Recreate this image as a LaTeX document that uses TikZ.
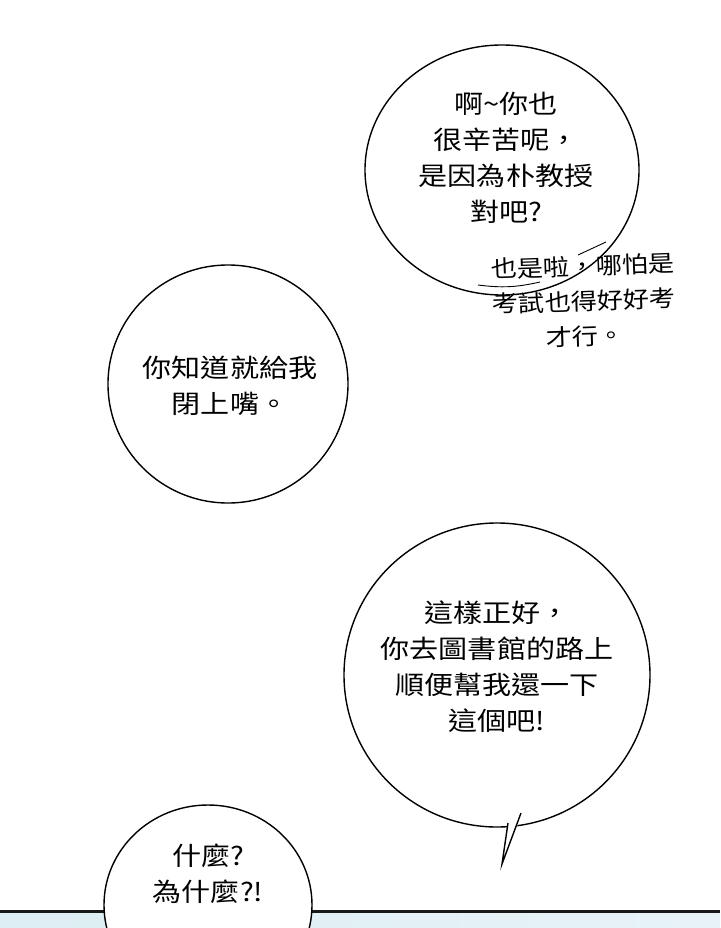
\documentclass[tikz,border=0pt]{standalone}
\usepackage{fontspec}
\newfontfamily\cjk[FakeStretch=1.14]{Noto Sans CJK TC}
\definecolor{panelblue}{HTML}{DDEEF4}
\begin{document}
\begin{tikzpicture}[x=1pt,y=-1pt,
  bub/.style={draw=black,line width=1.4pt,fill=white},
  txt/.style={font=\cjk\fontsize{25.5}{36}\selectfont,align=center,text=black},
  hand/.style={font=\cjk\fontsize{23}{35}\selectfont,align=center,text=black}]
\useasboundingbox (0,0) rectangle (720,928);
\fill[white] (0,0) rectangle (720,928);
\shade[left color=panelblue,right color=panelblue!70!white] (0,911) rectangle (720,928);
\draw[line width=3pt,black!90] (0,911) -- (720,911);
% bubble 1
\draw[bub] (502,170) ellipse [x radius=137, y radius=125];
\node[txt] (t1) at (506,158) {啊\textasciitilde 你也\\很辛苦呢，\\是因為朴教授\\對吧?};
\node[hand,rotate=2] (h1) at (584,301) {也是啦，哪怕是\\考試也得好好考\\才行。};
\draw[line width=0.9pt] (478,285) to[bend right=10] (540,282);
\draw[line width=0.9pt] (578,255) -- (606,242);
% bubble 3
\draw[line width=1.4pt] (497,675) ellipse [x radius=153, y radius=152];
\fill[white] (506,815) -- (508,826) -- (502,860) -- (522,815) -- (524,805) -- cycle;
\coordinate (ta) at (508,823);
\coordinate (tip) at (502,864);
\coordinate (tb) at (521,813);
\draw[line width=1.4pt,line join=miter] (ta) -- (tip) -- (tb);
\node[txt] (t3) at (497,667) {這樣正好，\\你去圖書館的路上\\順便幫我還一下\\這個吧!};
% bubble 2
\draw[bub] (228,384) ellipse [x radius=120, y radius=119];
\node[txt] (t2) at (230,386) {你知道就給我\\閉上嘴。};
% bubble 4
\draw[bub] (208,905) ellipse [x radius=104, y radius=100];
\node[txt] (t4) at (208,874) {什麼?\\為什麼?!};
\end{tikzpicture}
\end{document}
